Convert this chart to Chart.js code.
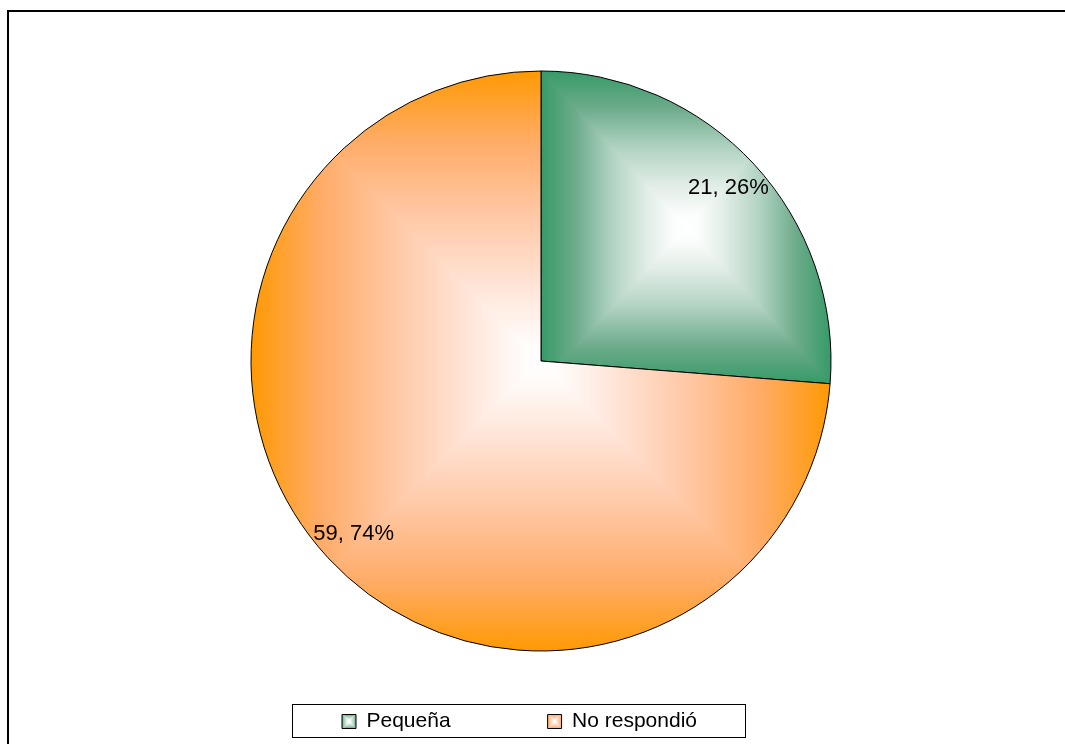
<!DOCTYPE html>
<html>
<head>
<meta charset="utf-8">
<script src="https://cdn.jsdelivr.net/npm/chart.js@4.4.0/dist/chart.umd.min.js"></script>
<style>
  html, body { margin: 0; padding: 0; background: #fff; }
  #wrap { position: relative; width: 1065px; height: 744px; }
</style>
</head>
<body>
<div id="wrap"><canvas id="pie_chart"></canvas></div>
<script>
var pie_chart = document.getElementById('pie_chart');

// data
const categories = ['Pequeña', 'No respondió'];
const counts = [21, 59];

// fill styles: edge colour -> white centre (rectangular gradient)
const sliceColors = ['#339966', '#ff9900'];
const sliceStops = [
  ['#339966', '#6dab8b', '#b2d3c2', '#e3eee8', '#fbfdfc', '#ffffff'],
  ['#ff9900', '#ffac68', '#ffc8a5', '#ffe5d9', '#fffaf7', '#ffffff']
];
const stopPos = [0, 0.25, 0.5, 0.75, 0.92, 1];

const FONT = '"Liberation Sans", Arial, sans-serif';
const PIE_RADIUS = 290;

function rectGradient(w, h, box, idx) {
  var cv = document.createElement('canvas');
  cv.width = w;
  cv.height = h;
  var g = cv.getContext('2d');
  var l = box.l - 2, t = box.t - 2, r = box.r + 2, b = box.b + 2;
  var cx = (l + r) / 2, cy = (t + b) / 2;
  var d = 1.5;
  function tri(p0, p1, p2, x0, y0, x1, y1) {
    var lg = g.createLinearGradient(x0, y0, x1, y1);
    stopPos.forEach(function (s, k) { lg.addColorStop(s, sliceStops[idx][k]); });
    g.fillStyle = lg;
    g.beginPath();
    g.moveTo(p0[0], p0[1]);
    g.lineTo(p1[0], p1[1]);
    g.lineTo(p2[0], p2[1]);
    g.closePath();
    g.fill();
  }
  tri([l - d, t], [r + d, t], [cx, cy + d], cx, t, cx, cy);
  tri([r, t - d], [r, b + d], [cx - d, cy], r, cy, cx, cy);
  tri([r + d, b], [l - d, b], [cx, cy - d], cx, b, cx, cy);
  tri([l, b + d], [l, t - d], [cx + d, cy], l, cy, cx, cy);
  return g.createPattern(cv, 'no-repeat');
}

function sectorBox(cx, cy, r, s, e) {
  var xs = [cx, cx + r * Math.cos(s), cx + r * Math.cos(e)];
  var ys = [cy, cy + r * Math.sin(s), cy + r * Math.sin(e)];
  for (var k = Math.ceil(s / (Math.PI / 2)); k * Math.PI / 2 <= e; k++) {
    xs.push(cx + r * Math.cos(k * Math.PI / 2));
    ys.push(cy + r * Math.sin(k * Math.PI / 2));
  }
  return { l: Math.min.apply(null, xs), r: Math.max.apply(null, xs), t: Math.min.apply(null, ys), b: Math.max.apply(null, ys) };
}

var patternCache = {};
function slicePattern(context) {
  var chart = context.chart;
  var area = chart.chartArea;
  var i = context.dataIndex;
  if (!area || i === undefined) return sliceColors[i || 0];
  var total = counts.reduce(function (a, b) { return a + b; }, 0);
  var cx = (area.left + area.right) / 2, cy = (area.top + area.bottom) / 2;
  var start = -Math.PI / 2;
  for (var k = 0; k < i; k++) start += counts[k] / total * 2 * Math.PI;
  var end = start + counts[i] / total * 2 * Math.PI;
  var box = sectorBox(cx, cy, PIE_RADIUS, start, end);
  var key = i + '|' + box.l + '|' + box.t + '|' + box.r + '|' + box.b;
  if (!patternCache[key]) patternCache[key] = rectGradient(chart.width, chart.height, box, i);
  return patternCache[key];
}

// outer frame + legend fills
const framePlugin = {
  id: 'framePlugin',
  beforeDraw(chart) {
    var ctx = chart.ctx;
    ctx.save();
    ctx.strokeStyle = '#000';
    ctx.lineWidth = 2;
    ctx.beginPath();
    ctx.moveTo(8, chart.height);
    ctx.lineTo(8, 11);
    ctx.lineTo(chart.width, 11);
    ctx.stroke();
    ctx.restore();

    var legend = chart.legend;
    var fs = legend.options.labels.font.size;
    var bw = legend.options.labels.boxWidth, bh = legend.options.labels.boxHeight;
    legend.legendItems.forEach(function (item, i) {
      var hb = legend.legendHitBoxes[i];
      var top = hb.top + Math.max((fs - bh) / 2, 0);
      item.fillStyle = rectGradient(chart.width, chart.height, { l: hb.left, t: top, r: hb.left + bw, b: top + bh }, i);
    });
  },
  afterDraw(chart) {
    var legend = chart.legend;
    var hbs = legend.legendHitBoxes;
    var first = hbs[0], last = hbs[hbs.length - 1];
    var mid = first.top + first.height / 2;
    var ctx = chart.ctx;
    ctx.save();
    ctx.strokeStyle = '#000';
    ctx.lineWidth = 1;
    ctx.strokeRect(Math.round(first.left - 50) + 0.5, Math.round(mid - 18) + 0.5,
      Math.round(last.left + last.width + 48 - (first.left - 50)), 33);
    ctx.restore();
  }
};

// "value, percent" labels inside each slice
const sliceLabels = {
  id: 'sliceLabels',
  afterDatasetsDraw(chart) {
    var ctx = chart.ctx;
    var meta = chart.getDatasetMeta(0);
    var total = counts.reduce(function (a, b) { return a + b; }, 0);
    ctx.save();
    ctx.font = '22px ' + FONT;
    ctx.fillStyle = '#000';
    ctx.textAlign = 'center';
    ctx.textBaseline = 'middle';
    meta.data.forEach(function (arc, i) {
      var p = arc.getProps(['x', 'y', 'startAngle', 'endAngle', 'outerRadius']);
      var a = (p.startAngle + p.endAngle) / 2;
      var d = p.outerRadius * 0.88;
      ctx.fillText(counts[i] + ', ' + Math.round(counts[i] / total * 100) + '%',
        p.x + Math.cos(a) * d, p.y + Math.sin(a) * d);
    });
    ctx.restore();
  }
};

var pieChart = new Chart(pie_chart, {
  type: 'pie',
  data: {
    labels: categories,
    datasets: [{
      data: counts,
      backgroundColor: slicePattern,
      borderColor: '#000000',
      borderWidth: 1,
      radius: PIE_RADIUS,
      clip: false,
      hoverOffset: 0
    }]
  },
  options: {
    responsive: true,
    maintainAspectRatio: false,
    animation: false,
    events: [],
    layout: { padding: { left: 245, right: 228, top: 108, bottom: 2 } },
    plugins: {
      tooltip: { enabled: false },
      legend: {
        position: 'bottom',
        align: 'start',
        labels: {
          color: '#000',
          font: { family: FONT, size: 21 },
          boxWidth: 14,
          boxHeight: 14,
          padding: 97
        }
      }
    }
  },
  plugins: [framePlugin, sliceLabels]
});
</script>
</body>
</html>
